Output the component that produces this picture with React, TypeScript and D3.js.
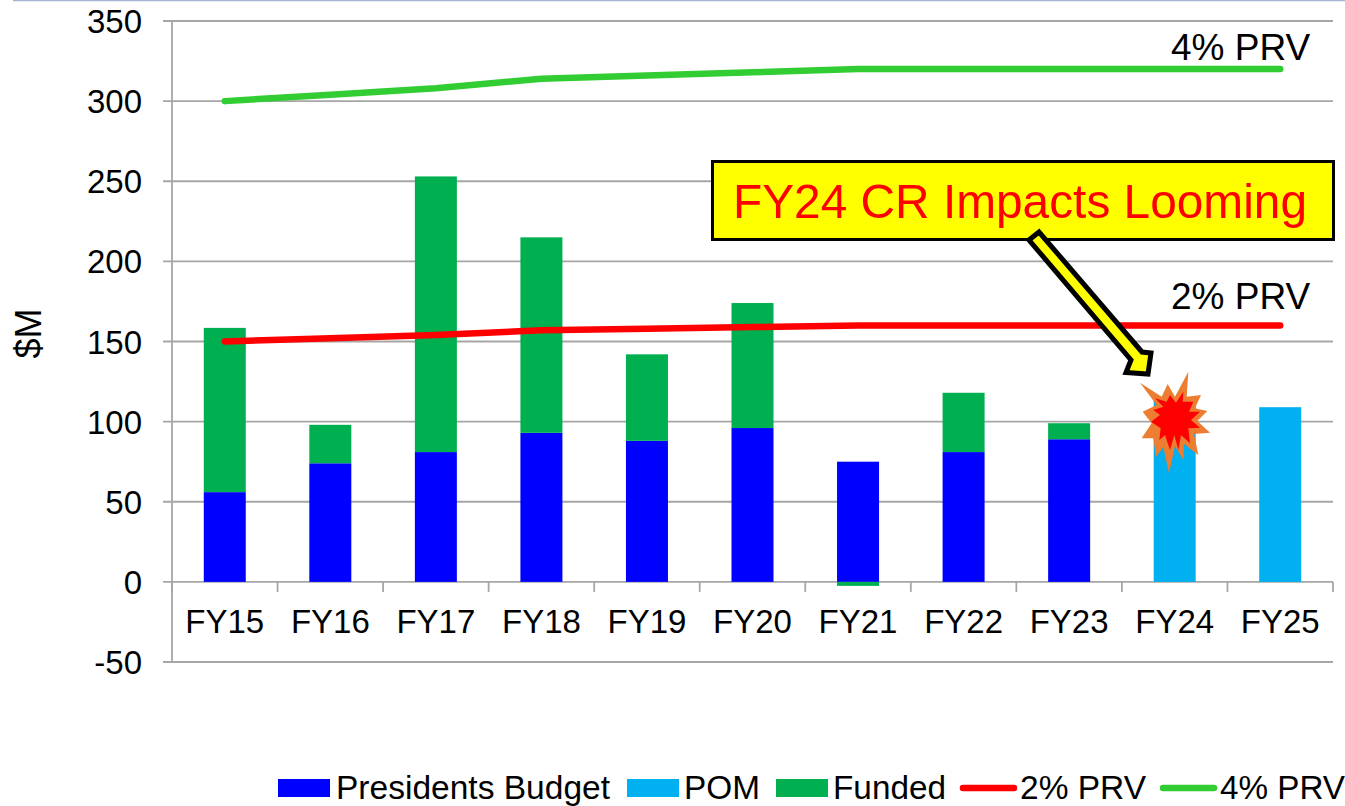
import React from "react";
import * as d3 from "d3";

const categories = ["FY15","FY16","FY17","FY18","FY19","FY20","FY21","FY22","FY23","FY24","FY25"];
const presidentsBudget = [56,74,81,93,88,96,75,81,89,0,0];
const pom = [0,0,0,0,0,0,0,0,0,114,109];
const funded = [102.5,24,172,122,54,78,-2.5,37,10,0,0];
const prv2 = [150,152,154,157,158,159,160,160,160,160,160];
const prv4 = [300,304,308,314,316,318,320,320,320,320,320];
const yTicks = [-50,0,50,100,150,200,250,300,350];
const FONT = "'Liberation Sans', Arial, sans-serif";
const GRID = "#a6a6a6";

const outerStarCrop = [[205,35],[200,110],[243,105],[225,145],[262,153],[232,183],[270,218],[222,222],[235,285],[192,252],[190,300],[165,258],[147,340],[130,262],[108,290],[100,235],[65,235],[95,190],[68,155],[110,135],[60,68],[125,110],[143,72],[165,110]];
const innerStarCrop = [[190,95],[188,125],[220,125],[207,155],[240,155],[213,180],[240,203],[205,205],[210,250],[183,225],[175,270],[163,225],[150,270],[135,225],[118,240],[122,205],[93,185],[120,165],[100,150],[130,140],[105,115],[140,125],[150,105],[168,128]];
const arrow = [[1029,240],[1039,232],[1142,352],[1151,353],[1148,374],[1126,372.5],[1131,360]];

export default function App() {
  const x = d3.scaleBand().domain(categories).range([172,1333]);
  const y = d3.scaleLinear().domain([-50,350]).range([662,21]);
  const barW = 42;
  const cx = (c: string) => (x(c) as number) + x.bandwidth()/2;
  const line = (vals: number[]) => d3.line<number>().x((_,i)=>cx(categories[i])).y(v=>y(v)).curve(d3.curveLinear)(vals) as string;
  const poly = (p: number[][]) => p.map(q=>q.join(",")).join(" ");
  const crop = (p: number[][]) => p.map(q=>[1120+q[0]/3,360+q[1]/3]);
  const legendSwatches = [
    {x:278,c:"#0000ff"},{x:627,c:"#00b0f0"},{x:776,c:"#00b050"},
  ];
  const legendLabels = [
    {x:336,w:274,t:"Presidents Budget"},{x:684,w:76,t:"POM"},{x:833,w:113,t:"Funded"},
    {x:1020,w:126,t:"2% PRV"},{x:1220,w:125,t:"4% PRV"},
  ];
  return (
    <svg width={1345} height={806} style={{position:"fixed",left:0,top:0,background:"#fff"}} fontFamily={FONT}>
      <line x1={13} x2={1345} y1={0.5} y2={0.5} stroke="#a5b5d5" strokeWidth={1.5}/>
      {yTicks.map(t=>(
        <g key={t}>
          <line x1={163} x2={1333} y1={y(t)} y2={y(t)} stroke={GRID} strokeWidth={1.8}/>
          <text x={142} y={y(t)+12} textAnchor="end" fontSize={33} fill="#000">{t}</text>
        </g>
      ))}
      <line x1={172} x2={172} y1={y(350)} y2={y(-50)} stroke={GRID} strokeWidth={1.8}/>
      {d3.range(categories.length+1).map(i=>(
        <line key={i} x1={172+i*x.step()} x2={172+i*x.step()} y1={y(0)} y2={y(0)+10} stroke={GRID} strokeWidth={1.8}/>
      ))}
      {categories.map((c,i)=>(
        <g key={c}>
          <rect x={cx(c)-barW/2} width={barW} y={y(presidentsBudget[i])} height={y(0)-y(presidentsBudget[i])} fill="#0000ff"/>
          <rect x={cx(c)-barW/2} width={barW} y={y(pom[i])} height={y(0)-y(pom[i])} fill="#00b0f0"/>
          {funded[i]>0
            ? <rect x={cx(c)-barW/2} width={barW} y={y(presidentsBudget[i]+funded[i])} height={y(0)-y(funded[i])} fill="#00b050"/>
            : <rect x={cx(c)-barW/2} width={barW} y={y(0)} height={y(funded[i])-y(0)} fill="#00b050"/>}
          <text x={cx(c)} y={633} textAnchor="middle" fontSize={33} fill="#000">{c}</text>
        </g>
      ))}
      <path d={line(prv2)} fill="none" stroke="#ff0000" strokeWidth={6.5} strokeLinecap="round" strokeLinejoin="round"/>
      <path d={line(prv4)} fill="none" stroke="#32cd32" strokeWidth={6.5} strokeLinecap="round" strokeLinejoin="round"/>
      <text x={1171} y={60} fontSize={37} fill="#000">4% PRV</text>
      <text x={1171} y={309} fontSize={37} fill="#000">2% PRV</text>
      <text transform="translate(41,333.5) rotate(-90)" textAnchor="middle" fontSize={36} fill="#000">$M</text>

      <rect x={712.5} y={161.5} width={621} height={78} fill="#ffff00" stroke="#000" strokeWidth={3}/>
      <text x={733} y={218} fontSize={49} fill="#ff0000" textLength={574} lengthAdjust="spacingAndGlyphs">FY24 CR Impacts Looming</text>
      <polygon points={poly(arrow)} fill="#ffff00" stroke="#000" strokeWidth={5} strokeLinejoin="miter"/>
      <polygon points={poly(crop(outerStarCrop))} fill="#ed7d31"/>
      <polygon points={poly(crop(innerStarCrop))} fill="#ff0000"/>

      {legendSwatches.map(s=><rect key={s.x} x={s.x} y={779} width={52} height={18} fill={s.c}/>)}
      <line x1={963} x2={1014} y1={788} y2={788} stroke="#ff0000" strokeWidth={6.5} strokeLinecap="round"/>
      <line x1={1163} x2={1214} y1={788} y2={788} stroke="#32cd32" strokeWidth={6.5} strokeLinecap="round"/>
      {legendLabels.map(l=>(
        <text key={l.t} x={l.x} y={799} fontSize={33} fill="#000" textLength={l.w} lengthAdjust="spacingAndGlyphs">{l.t}</text>
      ))}
    </svg>
  );
}
